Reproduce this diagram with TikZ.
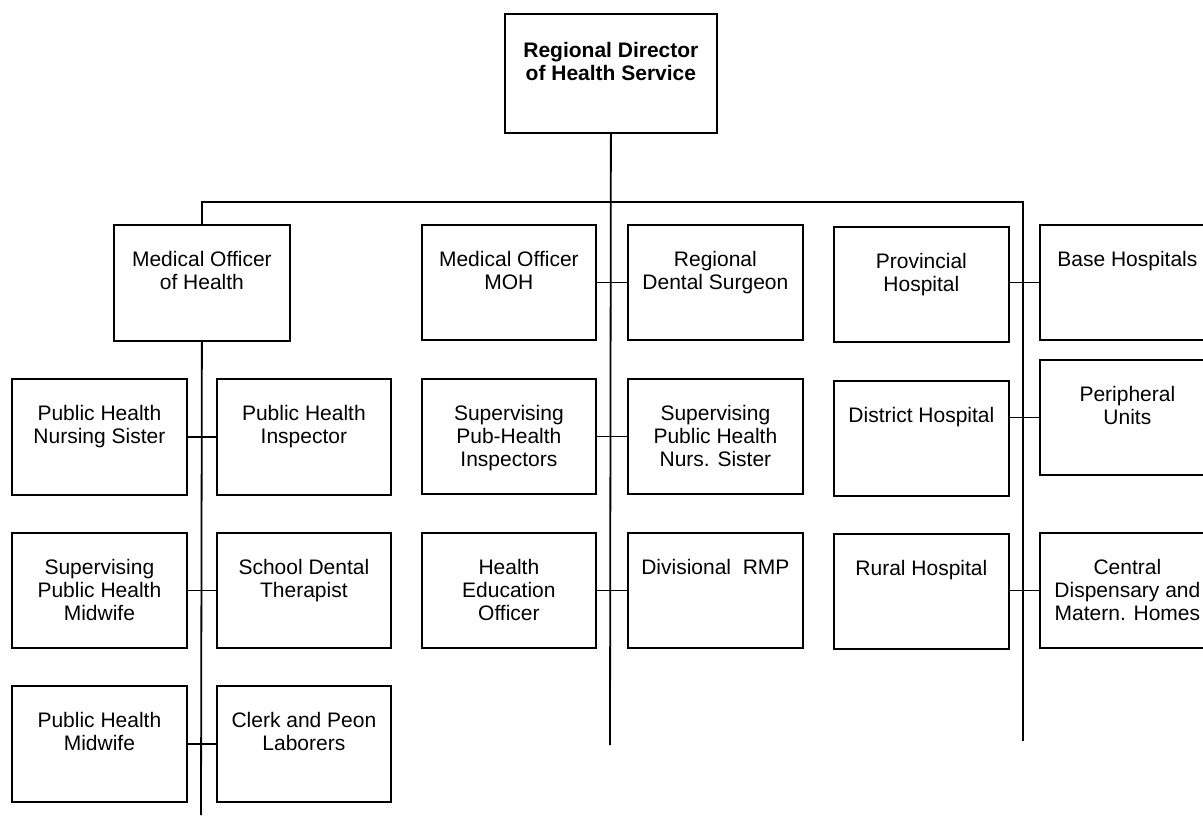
\documentclass[tikz,border=0pt]{standalone}
\usepackage{fontspec}
\setmainfont{Liberation Sans}
\tikzset{
  boxst/.style={draw=black, line width=1.8pt, inner sep=0pt, fill=white},
  txt/.style={inner sep=0pt, align=center, font=\fontsize{21}{23}\selectfont},
  conn/.style={draw=black, line width=1.8pt}
}
\newcommand\obox[6]{%
  \node[boxst, minimum width={#4-#2}, minimum height={#5-#3}, anchor=north west] (#1) at (#2,#3) {};
  \node[txt, anchor=north] (#1t) at ([yshift=-27pt]#1.north) {#6};
}
\begin{document}
\begin{tikzpicture}[x=1pt,y=-1pt]
\clip (0,0) rectangle (1203,815);
\fill[white] (0,0) rectangle (1203,815);
% free ends
\coordinate (bar) at (610,202);
\coordinate (lEnd) at (201,815);
\coordinate (mEnd) at (610,745);
\coordinate (rEnd) at (1023,741);
% top
\node[boxst, minimum width=212, minimum height=119, anchor=north west] (top) at (504,13) {};
\node[txt, anchor=north, font=\fontsize{21}{23}\selectfont\bfseries] (topt) at ([yshift=-29pt]top.north) {Regional Director\\of Health Service};
% left
\obox{moh}{113}{224}{289}{340}{Medical Officer\\of Health}
\obox{phns}{11}{378}{186}{494}{Public Health\\Nursing Sister}
\obox{phi}{216}{378}{390}{494}{Public Health\\Inspector}
\obox{sphm}{11}{532}{186}{647}{Supervising\\Public Health\\Midwife}
\obox{sdt}{216}{532}{390}{647}{School Dental\\Therapist}
\obox{phm}{11}{685}{186}{801}{Public Health\\Midwife}
\obox{cpl}{216}{685}{390}{801}{Clerk and Peon\\Laborers}
% middle
\obox{mom}{421}{224}{595}{339}{Medical Officer\\MOH}
\obox{rds}{627}{224}{802}{339}{Regional\\Dental Surgeon}
\obox{sphi}{421}{378}{595}{493}{Supervising\\Pub-Health\\Inspectors}
\obox{sphn}{627}{378}{802}{493}{Supervising\\Public Health\\Nurs. Sister}
\obox{heo}{421}{532}{595}{647}{Health\\Education\\Officer}
\obox{drmp}{627}{532}{802}{647}{Divisional~~RMP}
% right
\obox{prov}{833}{226}{1008}{341}{Provincial\\Hospital}
\obox{base}{1039}{224}{1214}{339}{Base Hospitals}
\obox{dist}{833}{380}{1008}{495}{District Hospital}
\obox{peri}{1039}{359}{1214}{474}{Peripheral\\Units}
\obox{rural}{833}{533}{1008}{648}{Rural Hospital}
\obox{cent}{1039}{532}{1214}{647}{Central\\Dispensary and\\Matern. Homes}
% spines
\draw[conn] (top.south) -- (mEnd);
\draw[conn] (moh.north) -- (moh.north |- bar) -- (rEnd |- bar) -- (rEnd);
\draw[conn] (moh.south) -- (lEnd);
% branches
\foreach \a/\b in {phns/phi, sphm/sdt, phm/cpl, mom/rds, sphi/sphn, heo/drmp, prov/base, dist/peri, rural/cent}
  \draw[conn] (\a.east |- \b.west) -- (\b.west);
\end{tikzpicture}
\end{document}
